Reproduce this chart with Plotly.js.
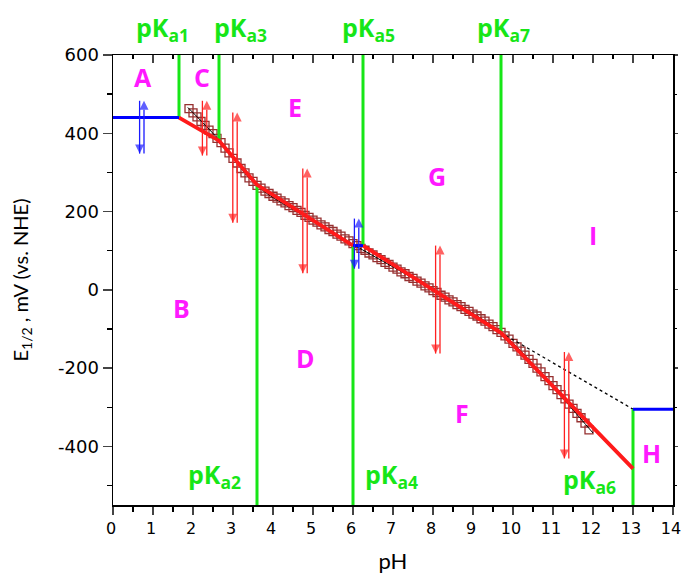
<!DOCTYPE html>
<html>
<head>
<meta charset="utf-8">
<script src="https://cdn.plot.ly/plotly-3.0.1.min.js"></script>
<style>html,body{margin:0;padding:0;background:#fff;}#chart{width:682px;height:574px;}</style>
</head>
<body>
<div id="chart"></div>
<script>
// measured data (squares)
const dataPH = [1.9,2.0,2.1,2.2,2.3,2.4,2.5,2.6,2.7,2.8,2.9,3.0,3.1,3.2,3.3,3.4,3.5,3.6,3.7,3.8,3.9,4.0,4.1,4.2,4.3,4.4,4.5,4.6,4.7,4.8,4.9,5.0,5.1,5.2,5.3,5.4,5.5,5.6,5.7,5.8,5.9,6.0,6.1,6.2,6.3,6.4,6.5,6.6,6.7,6.8,6.9,7.0,7.1,7.2,7.3,7.4,7.5,7.6,7.7,7.8,7.9,8.0,8.1,8.2,8.3,8.4,8.5,8.6,8.7,8.8,8.9,9.0,9.1,9.2,9.3,9.4,9.5,9.6,9.7,9.8,9.9,10.0,10.1,10.2,10.3,10.4,10.5,10.6,10.7,10.8,10.9,11.0,11.1,11.2,11.3,11.4,11.5,11.6,11.7,11.8,11.9];
const dataE = [463,452,442,430,420,408,399,387,376,362,350,336,324,310,299,286,277,267,260,252,246,239,234,227,222,215,210,203,198,190,185,178,173,166,161,154,149,142,137,130,125,118,113,106,101,94,89,82,77,70,65,58,53,46,41,34,29,22,17,10,5,-2,-7,-14,-19,-26,-31,-38,-43,-50,-55,-62,-67,-74,-80,-88,-94,-102,-109,-118,-126,-137,-146,-157,-167,-178,-188,-200,-210,-222,-232,-245,-255,-268,-279,-292,-303,-316,-327,-341,-358];
// simulated fit (thin black line)
const fitPH = [1.87,2.65,3.6,4.8,6.0,8.1,9.7,10.5,11.4,12.0];
const fitE  = [466,383,266,188,116,-6,-109,-190,-295,-366];
// Nernst fit (red) segments
const red1PH = [1.65,2.65,3.6,6.0];
const red1E  = [440,381,268,113];
const red2PH = [6.25,9.7,13];
const red2E  = [113,-110,-457];
// horizontal (blue) segments
const blue1PH = [0,1.65],   blue1E = [440,440];
const blue2PH = [6.0,6.25], blue2E = [113,113];
const blue3PH = [13,14],    blue3E = [-305,-305];
// dotted extrapolation
const dotPH = [9.7,13], dotE = [-110,-305];
// pKa lines
const pkaNames = ['pK<sub>a1</sub>','pK<sub>a2</sub>','pK<sub>a3</sub>','pK<sub>a4</sub>','pK<sub>a5</sub>','pK<sub>a6</sub>','pK<sub>a7</sub>'];
const pkaPH    = [1.65,3.6,2.65,6.0,6.25,13,9.7];
const pkaFrom  = [600,-550,600,-550,600,-550,600];
const pkaTo    = [440,268,381,113,113,-305,-110];
const pkaLabelPH = [1.24,2.54,3.19,6.97,6.39,11.92,9.77];
const pkaLabelE  = [null,-474,null,-474,null,-487,null]; // null = above the plot
// region letters
const regionNames = ['A','B','C','D','E','F','G','H','I'];
const regionPH = [0.74,1.72,2.22,4.8,4.54,8.72,8.1,13.47,12.0];
const regionE  = [545,-47,545,-175,468,-314,292,-418,139];
// double arrows
const arrowPH  = [0.72,2.29,3.05,4.8,6.09,8.12,11.34];
const arrowTop = [483,483,453,310,182,113,-159];
const arrowBot = [348,343,171,42,54,-163,-431];
const arrowCol = ['#1a1aff','#ff2020','#ff2020','#ff2020','#1a1aff','#ff2020','#ff2020'];
// axis ticks
const xTickVals = [0,1,2,3,4,5,6,7,8,9,10,11,12,13,14];
const yTickVals = [-400,-200,0,200,400,600];
const yTickText = ['-400','-200','0','200','400','600'];

const GREEN = '#17e617', RED = '#ff1a1a', BLUE = '#0000ff', MAG = '#ff19ff';
const FONT = 'Lato, "Open Sans", sans-serif';
const TICKFONT = '"DejaVu Sans", sans-serif';
const BOLD = '"Open Sans", "DejaVu Sans", sans-serif';

const traces = [];
traces.push({x:dataPH, y:dataE, mode:'markers', type:'scatter',
  marker:{symbol:'square-open', size:8, color:'#8b1a1a', line:{width:1.3, color:'#8b1a1a'}}, opacity:0.9, hoverinfo:'skip'});
traces.push({x:fitPH, y:fitE, mode:'lines', line:{color:'#000', width:1, shape:'spline'}});
traces.push({x:dotPH, y:dotE, mode:'lines', line:{color:'#000', width:1.2, dash:'dot'}});
for (let i=0;i<pkaPH.length;i++){
  traces.push({x:[pkaPH[i],pkaPH[i]], y:[pkaFrom[i],pkaTo[i]], mode:'lines', line:{color:GREEN, width:3}});
}
traces.push({x:red1PH, y:red1E, mode:'lines', line:{color:RED, width:3.8}});
traces.push({x:red2PH, y:red2E, mode:'lines', line:{color:RED, width:3.8}});
[[blue1PH,blue1E],[blue2PH,blue2E],[blue3PH,blue3E]].forEach(b=>{
  traces.push({x:b[0], y:b[1], mode:'lines', line:{color:BLUE, width:3}});
});
// double arrows: left one points down, right one points up
const dx = 0.055;
for (let i=0;i<arrowPH.length;i++){
  traces.push({x:[arrowPH[i]-dx, arrowPH[i]-dx], y:[arrowTop[i], arrowBot[i]], mode:'lines+markers',
    line:{color:arrowCol[i], width:1.3},
    marker:{symbol:['circle','arrow-down'], size:[0,9], color:arrowCol[i], line:{width:0}}});
  traces.push({x:[arrowPH[i]+dx, arrowPH[i]+dx], y:[arrowBot[i], arrowTop[i]], mode:'lines+markers',
    line:{color:arrowCol[i], width:1.3},
    marker:{symbol:['circle','arrow-up'], size:[0,9], color:arrowCol[i], line:{width:0}}});
}
// dummy traces for mirrored axes
traces.push({x:[], y:[], xaxis:'x2', yaxis:'y', mode:'markers', showlegend:false});
traces.push({x:[], y:[], xaxis:'x', yaxis:'y2', mode:'markers', showlegend:false});

const ann = [];
for (let i=0;i<pkaNames.length;i++){
  const above = pkaLabelE[i]===null;
  ann.push({x:pkaLabelPH[i], xref:'x', y: above?1.105:pkaLabelE[i], yref: above?'paper':'y',
    text:'<b>'+pkaNames[i]+'</b>', showarrow:false, font:{family:BOLD, size:25, color:GREEN, weight:800}});
}
for (let i=0;i<regionNames.length;i++){
  ann.push({x:regionPH[i], y:regionE[i], xref:'x', yref:'y', text:'<b>'+regionNames[i]+'</b>',
    showarrow:false, font:{family:BOLD, size:25, color:MAG, weight:800}});
}

const layout = {
  width:682, height:574,
  margin:{l:113, r:9, t:55, b:69},
  paper_bgcolor:'#fff', plot_bgcolor:'#fff',
  showlegend:false,
  font:{family:FONT, color:'#000'},
  xaxis:{range:[0,14], tickmode:'array', tickvals:xTickVals, ticks:'outside', ticklen:8, tickwidth:1.5,
    minor:{dtick:0.5, tick0:0, ticks:'outside', ticklen:5, tickwidth:1.3, tickcolor:'#000'},
    ticklabeloverflow:'allow', ticklabelshift:-2,
    showline:true, linecolor:'#000', linewidth:1.5, showgrid:false, zeroline:false,
    tickfont:{family:TICKFONT, size:16}, title:{text:'pH', font:{family:FONT, size:22}, standoff:20}},
  xaxis2:{range:[0,14], overlaying:'x', side:'top', tickmode:'array', tickvals:xTickVals, ticks:'inside', ticklen:8, tickwidth:1.5,
    minor:{dtick:0.5, tick0:0, ticks:'inside', ticklen:4, tickwidth:1.3, tickcolor:'#000'},
    showline:true, linecolor:'#000', linewidth:1.5, showgrid:false, zeroline:false, showticklabels:false},
  yaxis:{range:[-550,600], tickmode:'array', tickvals:yTickVals, ticktext:yTickText, ticks:'outside', ticklen:9, tickwidth:1.5,
    minor:{dtick:100, tick0:0, ticks:'outside', ticklen:5, tickwidth:1.3, tickcolor:'#000'},
    showline:true, linecolor:'#000', linewidth:1.5, showgrid:false, zeroline:false,
    tickfont:{family:TICKFONT, size:18},
    title:{text:'E<sub>1/2</sub> , mV (vs. NHE)', font:{family:FONT, size:20}, standoff:24}},
  yaxis2:{range:[-550,600], overlaying:'y', side:'right', tickmode:'array', tickvals:yTickVals, ticks:'outside', ticklen:3, tickwidth:1.3,
    minor:{dtick:100, tick0:0, ticks:'outside', ticklen:2, tickwidth:1, tickcolor:'#000'},
    showline:true, linecolor:'#000', linewidth:1.5, showgrid:false, zeroline:false, showticklabels:false},
  annotations:ann
};
Plotly.newPlot('chart', traces, layout, {displayModeBar:false, staticPlot:true});
</script>
</body>
</html>
